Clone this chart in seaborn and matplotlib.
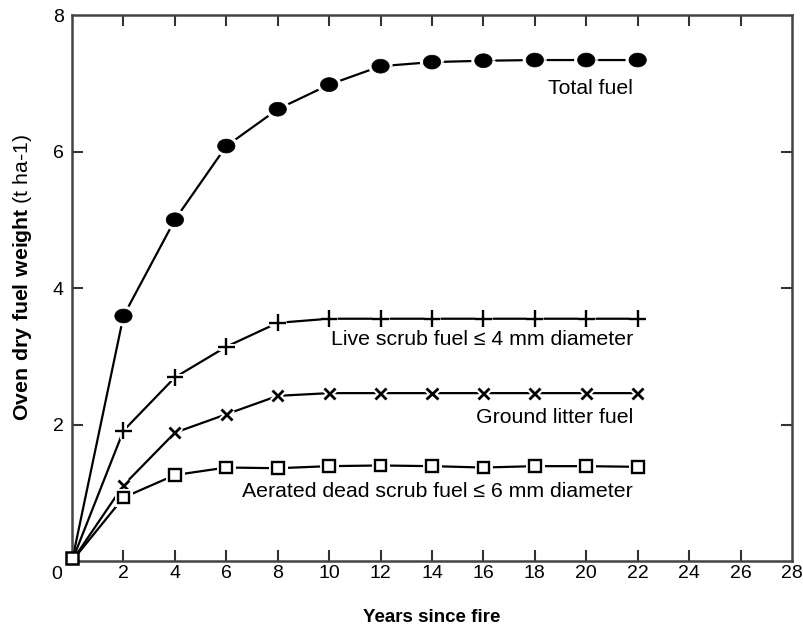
import numpy as np
import pandas as pd
import matplotlib
matplotlib.use("Agg")
import matplotlib.pyplot as plt
import matplotlib.patheffects as pe
import seaborn as sns

# Years since fire and fuel loads (t ha-1) for each fuel component
years = [0, 2, 4, 6, 8, 10, 12, 14, 16, 18, 20, 22]
total_fuel = [0, 3.59, 5.00, 6.08, 6.62, 6.98, 7.25, 7.31, 7.33, 7.34, 7.34, 7.34]
live_scrub = [0, 1.91, 2.69, 3.14, 3.49, 3.55, 3.55, 3.55, 3.55, 3.55, 3.55, 3.55]
ground_litter = [0, 1.11, 1.88, 2.15, 2.42, 2.46, 2.46, 2.46, 2.46, 2.46, 2.46, 2.46]
aerated_dead = [0, 0.93, 1.26, 1.37, 1.36, 1.39, 1.40, 1.39, 1.37, 1.39, 1.39, 1.38]

series_labels = [
    "Total fuel",
    "Live scrub fuel \u2264 4 mm diameter",
    "Ground litter fuel",
    "Aerated dead scrub fuel \u2264 6 mm diameter",
]
label_y = [6.93, 3.24, 2.11, 1.02]

x_ticks = list(range(2, 30, 2))
y_ticks = [2, 4, 6, 8]

sns.set_theme(style="white")
plt.rcParams["font.family"] = ["Liberation Sans", "DejaVu Sans"]
plt.rcParams["mathtext.fontset"] = "custom"
plt.rcParams["mathtext.rm"] = "Liberation Sans"
plt.rcParams["mathtext.bf"] = "Liberation Sans:bold"
plt.rcParams["text.color"] = "black"
plt.rcParams["axes.labelcolor"] = "black"

fig = plt.figure(figsize=(8.04, 6.33), dpi=100)
ax = fig.add_axes([0.0896, 0.1137, 0.8954, 0.8626])

# Slightly flattened ellipse for the total-fuel marker
t = np.linspace(0, 2 * np.pi, 40)
ellipse = np.column_stack([1.25 * np.cos(t), np.sin(t)])

styles = [
    dict(marker=ellipse, ms=12.5, mfc="black", mec="black", mew=0.5),
    dict(marker="+", ms=12, mfc="black", mec="black", mew=1.7),
    dict(marker="x", ms=8, mfc="black", mec="black", mew=2.0),
    dict(marker="s", ms=8.5, mfc="white", mec="black", mew=1.7),
]
all_series = [total_fuel, live_scrub, ground_litter, aerated_dead]

halo = [pe.Stroke(linewidth=5, foreground="white"), pe.Normal()]

for vals, st in zip(all_series, styles):
    sns.lineplot(x=years, y=vals, ax=ax, color="black", lw=1.6, zorder=2)
    m = sns.lineplot(x=years[1:], y=vals[1:], ax=ax, color="black",
                     linestyle="", zorder=3, **st)
    m.lines[-1].set_path_effects(halo)
    m.lines[-1].set_clip_on(False)

# Common origin point
ax.plot([0], [0.05], marker="s", ms=9, mfc="white", mec="black", mew=1.8,
        linestyle="", zorder=4, clip_on=False)

for text, yv in zip(series_labels, label_y):
    ax.text(21.82, yv, text, ha="right", va="center", fontsize=15.3, color="black")

ax.set_xlim(0, 28)
ax.set_ylim(0, 8)
ax.set_xticks([0] + x_ticks)
ax.set_xticklabels([""] + [str(v) for v in x_ticks])
ax.set_yticks([0] + y_ticks)
ax.set_yticklabels([""] + [str(v) for v in y_ticks])
ax.annotate("0", xy=(0, 0), xycoords="data", xytext=(-15, -5),
            textcoords="offset pixels", ha="center", va="top", fontsize=14,
            color="black")

ax.tick_params(axis="both", which="both", direction="in", length=8, width=1.5,
               color="#333333", labelsize=14, labelcolor="black",
               top=True, right=True, bottom=True, left=True)
ax.tick_params(axis="x", pad=3)
ax.tick_params(axis="y", pad=6)
for side in ["bottom", "top", "left", "right"]:
    ax.spines[side].set_visible(True)
    ax.spines[side].set_color("#444444")
    ax.spines[side].set_linewidth(1.8)

# hide tick marks at the axis ends
for tk in ax.xaxis.get_major_ticks():
    if tk.get_loc() in (0, 28):
        tk.tick1line.set_visible(False)
        tk.tick2line.set_visible(False)
for tk in ax.yaxis.get_major_ticks():
    if tk.get_loc() in (0, 8):
        tk.tick1line.set_visible(False)
        tk.tick2line.set_visible(False)

ax.set_xlabel("Years since fire", fontsize=13.5, fontweight="bold", color="black")
ax.xaxis.set_label_coords(0.5, -0.088)
ax.set_ylabel(r"$\mathbf{Oven\ dry\ fuel\ weight}$ (t ha-1)", fontsize=15.3,
              color="black")
ax.yaxis.set_label_coords(-0.053, 0.52)

fig.savefig("out.png", dpi=100, facecolor="white")
